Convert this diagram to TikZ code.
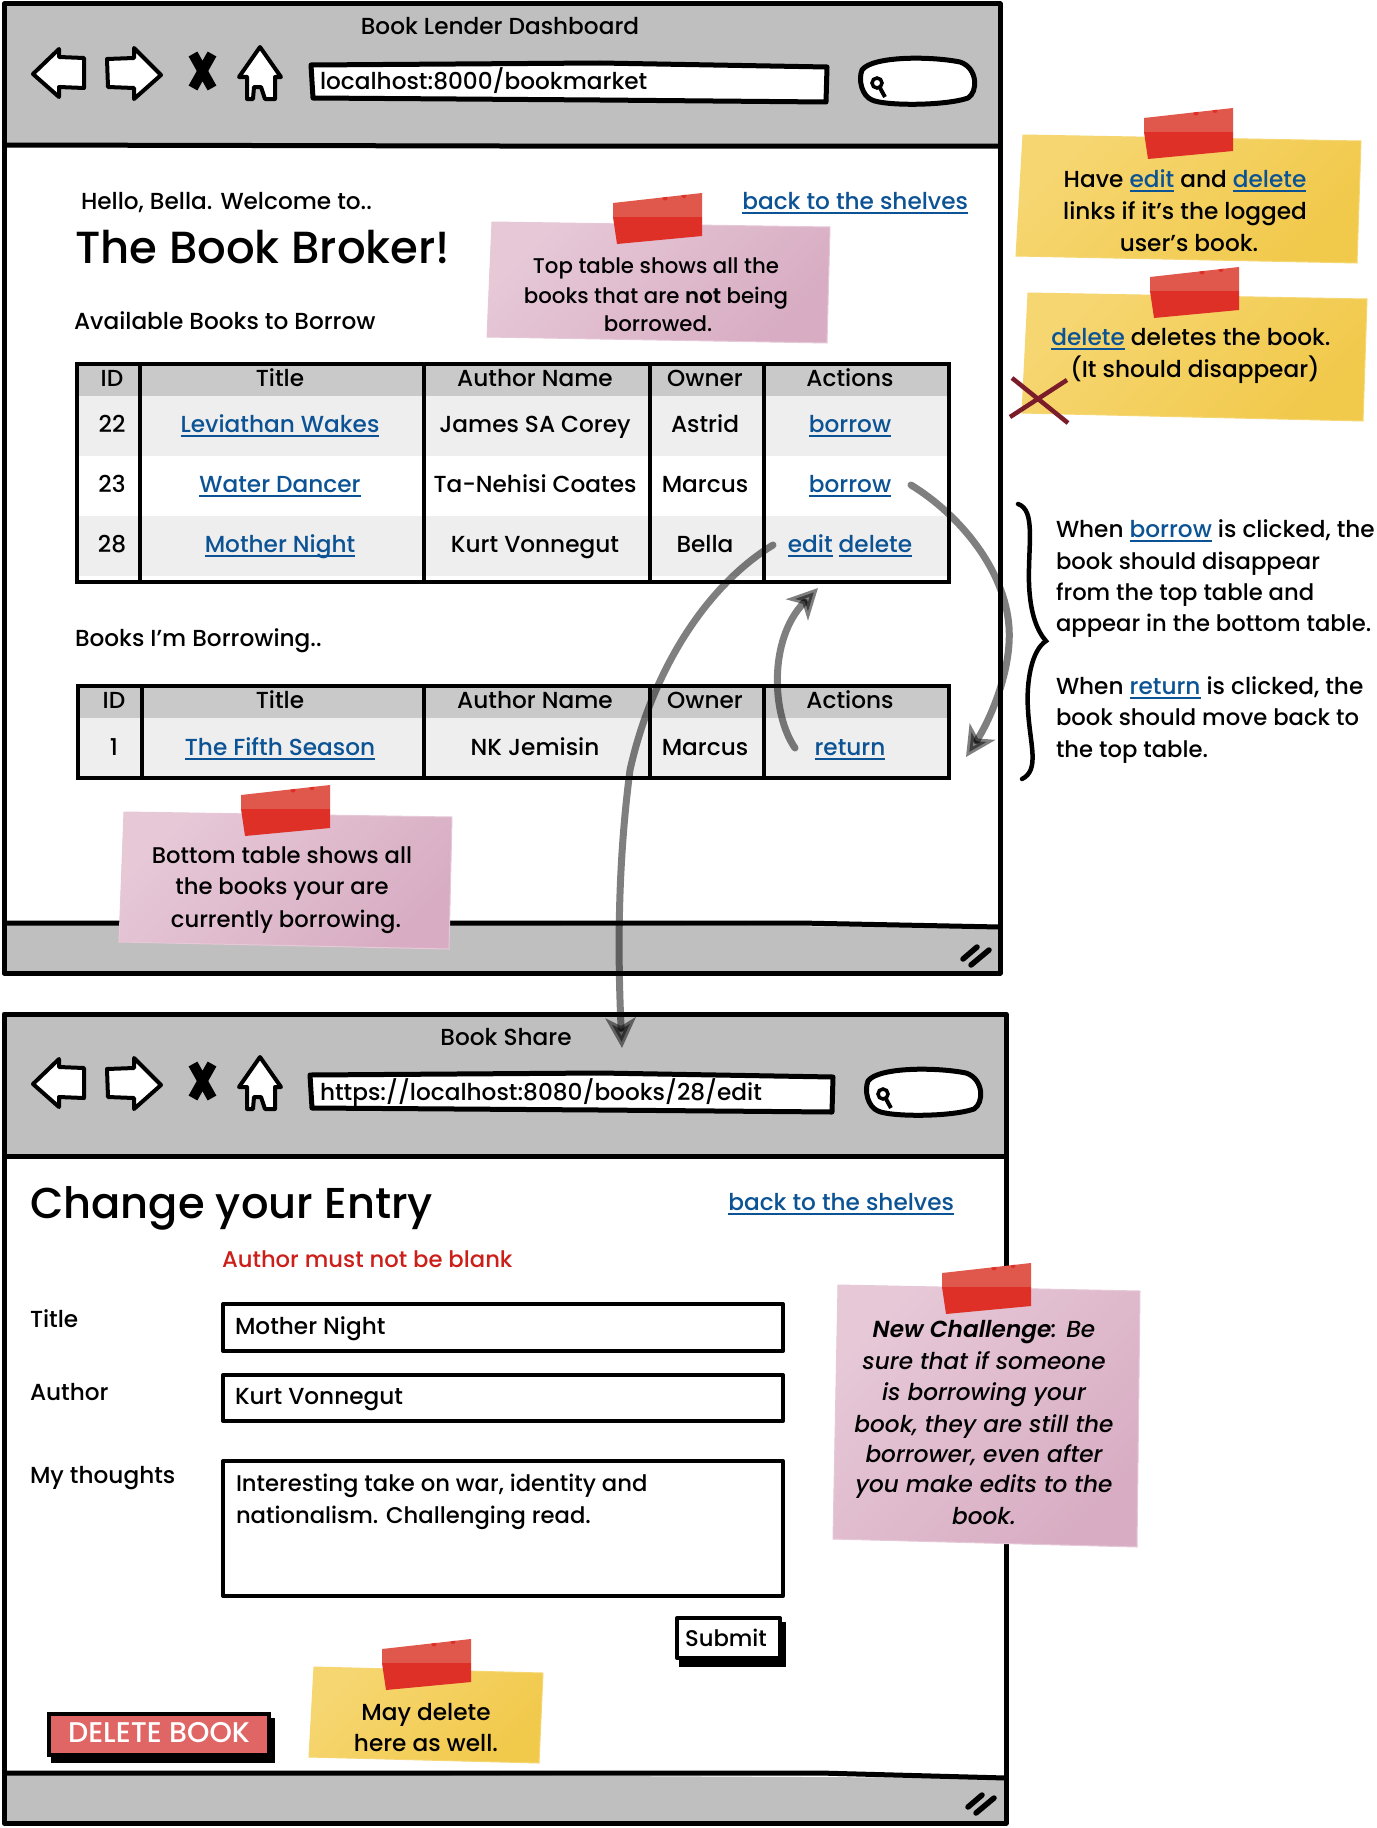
\documentclass[tikz,border=0pt]{standalone}
\usepackage{fontspec}
\setmainfont{Poppins Medium}[BoldFont={Poppins SemiBold},ItalicFont={Poppins Medium Italic},BoldItalicFont={Poppins SemiBold Italic}]
\usetikzlibrary{arrows.meta,calc}
\definecolor{linkblue}{HTML}{0B5394}
\definecolor{chrome}{HTML}{BFBFBF}
\definecolor{thead}{HTML}{C9C9C9}
\definecolor{trow}{HTML}{EEEEEE}
\definecolor{pinkbase}{HTML}{D8ADC3}
\definecolor{pinklight}{HTML}{E6C8D7}
\definecolor{yellowbase}{HTML}{F1C94B}
\definecolor{yellowlight}{HTML}{F6D671}
\definecolor{tapetop}{HTML}{E0574C}
\definecolor{tapelow}{HTML}{DE3026}
\definecolor{crosscol}{HTML}{7B1C2A}
\definecolor{errred}{HTML}{CC1F1A}
\definecolor{delfill}{HTML}{E06666}
\newcommand\lnk[1]{{\color{linkblue}\setbox0=\hbox{#1}\rlap{\copy0}\rlap{\rule[-4.5pt]{\wd0}{2pt}}\hskip\wd0\relax}}
\tikzset{
  x=1pt,y=-1pt,
  txt/.style={inner sep=0pt,outer sep=0pt,font=\fontsize{23.2}{26}\selectfont,text height=18pt,text depth=2pt},
  ltxt/.style={txt,anchor=west},
  snug/.style={font=\fontsize{22.7}{26}\selectfont},
  tight/.style={font=\fontsize{21.3}{26}\selectfont},
  ital/.style={txt,font=\fontsize{23.2}{26}\selectfont\itshape},
  big/.style={inner sep=0pt,outer sep=0pt,anchor=west},
  frame/.style={draw=black,line width=5pt,line join=round},
  tline/.style={draw=black,line width=4.5pt},
  icon/.style={draw=black,fill=white,line width=4pt,line join=round},
  flow/.style={draw=black,opacity=.5,line width=7pt,line cap=round,-{Stealth[length=30pt,width=30pt,inset=8pt]}},
}
% note: fill, light colour, four corners
\newcommand\stickynote[6]{%
  \shade[left color=#2,middle color=#1,right color=#1,shading angle=45,draw=#2,line width=1pt] #3 -- #4 -- #5 -- #6 -- cycle;}
\newcommand\tape[2]{%
  \begin{scope}[shift={(#1,#2)}]
    \fill[tapetop] (0,0) -- (89,-10) -- (89,14) -- (0,14) -- cycle;
    \fill[tapelow] (0,14) -- (89,14) -- (89,33) -- (4,41) -- cycle;
    \begin{scope}
      \clip (0,0) -- (89,-10) -- (89,14) -- (0,14) -- cycle;
      \fill[tapelow] (52,-5) circle (2.5);
      \fill[tapelow] (71,-7.5) circle (2.5);
    \end{scope}
  \end{scope}}
\newcommand\icons[1]{%
  \begin{scope}[shift={(0,#1)}]
    \draw[icon] (33,74) -- (59,49) -- (59,57) -- (84,58) -- (84,88) -- (59,87) -- (59,97) -- cycle;
    \draw[icon] (107,59) -- (134,58) -- (134,48) -- (161,75) -- (134,99) -- (134,88) -- (108,87) -- cycle;
    \draw[black,line width=10pt] (193,54) -- (212,88) (212,54) -- (193,88);
    \draw[icon] (260,47) -- (281,77) -- (275,77) -- (275,99) -- (265,99) -- (261,87) -- (254,87) -- (253,99) -- (247,99) -- (247,77) -- (239,77) -- cycle;
  \end{scope}}
\newcommand\searchbox[2]{%
  \begin{scope}[shift={(#1,#2)}]
    \draw[icon,line width=5pt] (862,70) .. controls (872,56) and (930,56) .. (960,62) .. controls (978,68) and (978,92) .. (968,98) .. controls (945,106) and (885,106) .. (872,100) .. controls (862,96) and (858,80) .. (862,70) -- cycle;
    \draw[black,line width=3.5pt] (877,83) circle (5);
    \draw[black,line width=4pt] (880,88) -- (885,97);
  \end{scope}}
\newcommand\grip[2]{%
  \begin{scope}[shift={(#1,#2)}]
    \draw[black,line width=5.5pt,line cap=round] (0,14) -- (14,2) (8,20) -- (26,5);
  \end{scope}}
\begin{document}
\begin{tikzpicture}
\useasboundingbox (0,0) rectangle (1376,1828);
\fill[white] (0,0) rectangle (1376,1828);

% ---------- window 1
\fill[chrome] (5,5) rectangle (999,146);
\fill[chrome] (5,923) -- (999,927) -- (999,973) -- (5,973) -- cycle;
\draw[frame] (4,4) -- (1000,4) -- (1000,973) -- (4,973) -- cycle;
\draw[frame] (4,145) -- (500,146) -- (1000,146);
\draw[frame] (4,923) -- (500,923) -- (800,923) -- (1000,927);
\node[txt] (t1) at (500,27) {Book Lender Dashboard};
\icons{0}
\draw[icon,line width=5pt] (311,65) -- (600,63) -- (827,67) -- (826,102) -- (600,100) -- (313,98) -- cycle;
\node[ltxt] (u1) at (320,81) {localhost:8000/bookmarket};
\searchbox{0}{0}
\grip{963}{945}

\node[ltxt] (hello) at (81,201) {Hello, Bella. Welcome to..};
\node[big,font=\fontsize{45}{48}\selectfont] (broker) at (75,247) {The Book Broker!};
\node[ltxt] (avail) at (74,321) {Available Books to Borrow};
\node[txt,anchor=east] (back1) at (968,201) {\lnk{back to the shelves}};

% table 1
\fill[thead] (76,363) rectangle (949,396);
\fill[trow] (76,396) rectangle (949,456);
\fill[trow] (76,516) rectangle (949,576);
\draw[tline] (77,364) -- (949,364) -- (949,582) -- (77,582) -- cycle;
\foreach \c in {140,424,650,764} \draw[tline] (\c,362) -- (\c,584);
\node[txt] (a1) at (112,378) {ID};
\node[txt] (a2) at (280,378) {Title};
\node[txt] (a3) at (535,378) {Author Name};
\node[txt] (a4) at (705,378) {Owner};
\node[txt] (a5) at (850,378) {Actions};
\node[txt] (b1) at (112,424) {22};
\node[txt] (b2) at (280,424) {\lnk{Leviathan Wakes}};
\node[txt] (b3) at (535,424) {James SA Corey};
\node[txt] (b4) at (705,424) {Astrid};
\node[txt] (b5) at (850,424) {\lnk{borrow}};
\node[txt] (c1) at (112,484) {23};
\node[txt] (c2) at (280,484) {\lnk{Water Dancer}};
\node[txt] (c3) at (535,484) {Ta-Nehisi Coates};
\node[txt] (c4) at (705,484) {Marcus};
\node[txt] (c5) at (850,484) {\lnk{borrow}};
\node[txt] (d1) at (112,544) {28};
\node[txt] (d2) at (280,544) {\lnk{Mother Night}};
\node[txt] (d3) at (535,544) {Kurt Vonnegut};
\node[txt] (d4) at (705,544) {Bella};
\node[txt] (d5) at (850,544) {\lnk{edit} \lnk{delete}};

\node[ltxt] (borrowing) at (75,638) {Books I'm Borrowing..};

% table 2
\fill[thead] (78,685) rectangle (949,718);
\fill[trow] (78,718) rectangle (949,776);
\draw[tline] (78,686) -- (949,686) -- (949,778) -- (78,778) -- cycle;
\foreach \c in {142,424,650,764} \draw[tline] (\c,684) -- (\c,780);
\node[txt] (e1) at (114,700) {ID};
\node[txt] (e2) at (280,700) {Title};
\node[txt] (e3) at (535,700) {Author Name};
\node[txt] (e4) at (705,700) {Owner};
\node[txt] (e5) at (850,700) {Actions};
\node[txt] (f1) at (114,747) {1};
\node[txt] (f2) at (280,747) {\lnk{The Fifth Season}};
\node[txt] (f3) at (535,747) {NK Jemisin};
\node[txt] (f4) at (705,747) {Marcus};
\node[txt] (f5) at (850,747) {\lnk{return}};

% ---------- window 2
\fill[chrome] (5,1013) rectangle (1006,1156);
\fill[chrome] (5,1773) -- (1006,1778) -- (1006,1823) -- (5,1823) -- cycle;
\draw[frame] (4,1014) -- (1006,1014) -- (1006,1823) -- (4,1823) -- cycle;
\draw[frame] (4,1156) -- (1006,1156);
\draw[frame] (4,1773) -- (820,1773) -- (1006,1778);
\node[txt] (t2) at (506,1037) {Book Share};
\icons{1010}
\draw[icon,line width=5pt] (310,1075) -- (600,1073) -- (833,1077) -- (832,1112) -- (600,1110) -- (312,1108) -- cycle;
\node[ltxt] (u2) at (320,1092) {https://localhost:8080/books/28/edit};
\searchbox{6}{1011}
\grip{968}{1793}

\node[big,font=\fontsize{43.2}{48}\selectfont] (change) at (30,1208) {Change your Entry};
\node[txt,anchor=east] (back2) at (954,1202) {\lnk{back to the shelves}};
\node[ltxt,snug,text=errred] (err) at (222,1259) {Author must not be blank};
\node[ltxt] (l1) at (30,1319) {Title};
\node[ltxt] (l2) at (30,1392) {Author};
\node[ltxt] (l3) at (30,1475) {My thoughts};
\draw[icon] (223,1304) rectangle (783,1351);
\node[ltxt] (i1) at (235,1326) {Mother Night};
\draw[icon] (223,1375) rectangle (783,1421);
\node[ltxt] (i2) at (235,1396) {Kurt Vonnegut};
\draw[icon] (223,1461) rectangle (783,1596);
\node[ltxt,snug] (i3) at (236,1483) {Interesting take on war, identity and};
\node[ltxt,snug] (i4) at (236,1515) {nationalism. Challenging read.};
% submit
\fill[black] (679,1622) rectangle (786,1667);
\draw[icon] (677,1618) rectangle (780,1658);
\node[txt,snug] (submit) at (726,1638) {Submit};
% delete
\fill[black] (51,1718) rectangle (275,1763);
\fill[delfill,draw=black,line width=4pt] (49,1714) rectangle (269,1755);
\node[txt,text=white,font=\fontsize{28.5}{30}\selectfont] (del) at (159,1734) {DELETE BOOK};

% ---------- notes
\stickynote{pinkbase}{pinklight}{(492,222)}{(830,227)}{(827,343)}{(487,337)}
\tape{613}{203}
\node[txt,tight] (n1a) at (656,265) {Top table shows all the};
\node[txt,tight] (n1b) at (656,295) {books that are \textbf{not} being};
\node[txt,tight] (n1c) at (658,323) {borrowed.};

\stickynote{pinkbase}{pinklight}{(124,812)}{(452,817)}{(449,949)}{(119,942)}
\tape{241}{795}
\node[txt,snug] (n2a) at (282,855) {Bottom table shows all};
\node[txt,snug] (n2b) at (282,886) {the books your are};
\node[txt,snug] (n2c) at (286,919) {currently borrowing.};

\stickynote{yellowbase}{yellowlight}{(1023,135)}{(1361,141)}{(1357,263)}{(1016,256)}
\tape{1144}{118}
\node[txt] (n3a) at (1185,179) {Have \lnk{edit} and \lnk{delete}};
\node[txt] (n3b) at (1185,211) {links if it's the logged};
\node[txt] (n3c) at (1189,243) {user's book.};

\stickynote{yellowbase}{yellowlight}{(1028,293)}{(1367,299)}{(1363,421)}{(1022,413)}
\tape{1150}{277}
\node[txt] (n4a) at (1191,337) {\lnk{delete} deletes the book.};
\node[txt] (n4b) at (1195,369) {(It should disappear)};
\draw[crosscol,line width=4.5pt] (1012,378) -- (1068,423) (1010,417) -- (1067,380);

\stickynote{pinkbase}{pinklight}{(838,1285)}{(1140,1291)}{(1137,1547)}{(833,1539)}
\tape{942}{1273}
\node[ital] (n5a) at (984,1329) {\textbf{New Challenge}: Be};
\node[ital] (n5b) at (984,1361) {sure that if someone};
\node[ital] (n5c) at (984,1392) {is borrowing your};
\node[ital] (n5d) at (984,1424) {book, they are still the};
\node[ital] (n5e) at (984,1454) {borrower, even after};
\node[ital] (n5f) at (984,1484) {you make edits to the};
\node[ital] (n5g) at (984,1516) {book.};

\stickynote{yellowbase}{yellowlight}{(314,1667)}{(543,1673)}{(539,1763)}{(309,1757)}
\tape{382}{1649}
\node[txt] (n6a) at (426,1712) {May delete};
\node[txt] (n6b) at (426,1743) {here as well.};

% ---------- brace and side text
\draw[black,line width=4.5pt,line cap=round] (1018,504) .. controls (1036,510) and (1028,545) .. (1029,583) .. controls (1030,615) and (1038,632) .. (1046,641) .. controls (1032,650) and (1026,680) .. (1028,710) .. controls (1030,745) and (1040,770) .. (1022,779);
\node[ltxt] (s1) at (1056,529) {When \lnk{borrow} is clicked, the};
\node[ltxt,snug] (s2) at (1056,561) {book should disappear};
\node[ltxt,snug] (s3) at (1056,592) {from the top table and};
\node[ltxt,snug] (s4) at (1056,623) {appear in the bottom table.};
\node[ltxt] (s5) at (1056,686) {When \lnk{return} is clicked, the};
\node[ltxt,snug] (s6) at (1056,717) {book should move back to};
\node[ltxt,snug] (s7) at (1056,749) {the top table.};

% ---------- arrows
\coordinate (bs) at (911,485);
\coordinate (bm) at (1009,627);
\coordinate (be) at (966,757);
\coordinate (rs) at (795,748);
\coordinate (re) at (818,588);
\coordinate (es) at (773,545);
\coordinate (em) at (630,770);
\coordinate (ee) at (622,1048);
\draw[flow] (bs) .. controls (960,515) and (1005,570) .. (bm) .. controls (1012,670) and (990,720) .. (be);
\draw[flow] (rs) .. controls (772,715) and (768,640) .. (re);
\draw[flow] (es) .. controls (700,590) and (650,680) .. (em) .. controls (617,870) and (618,960) .. (ee);
\end{tikzpicture}
\end{document}
